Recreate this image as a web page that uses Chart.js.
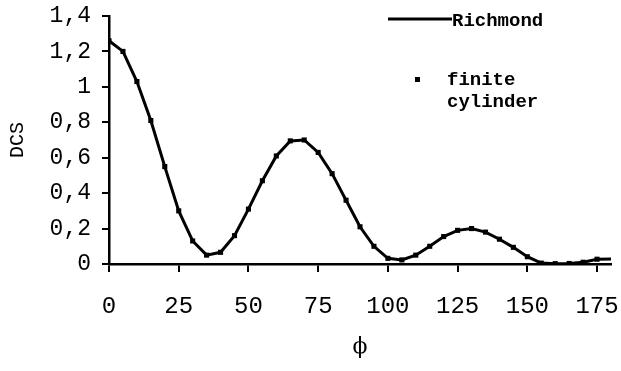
<!DOCTYPE html>
<html>
<head>
<meta charset="utf-8">
<script src="https://cdn.jsdelivr.net/npm/chart.js@4/dist/chart.umd.min.js"></script>
<style>
  html, body { margin: 0; padding: 0; background: #fff; }
  #wrap { width: 621px; height: 371px; }
</style>
</head>
<body>
<div id="wrap"><canvas id="myChart" width="621" height="371"></canvas></div>
<script>
// angles (deg) and DCS values
const angles = [0, 5, 10, 15, 20, 25, 30, 35, 40, 45, 50, 55, 60, 65, 70, 75, 80, 85, 90,
  95, 100, 105, 110, 115, 120, 125, 130, 135, 140, 145, 150, 155, 160, 165, 170, 175, 180];
const richmond = [1.26, 1.20, 1.03, 0.81, 0.55, 0.30, 0.13, 0.05, 0.066, 0.16, 0.31, 0.47, 0.61,
  0.695, 0.70, 0.63, 0.51, 0.36, 0.21, 0.10, 0.032, 0.023, 0.05, 0.10, 0.155, 0.19, 0.20,
  0.18, 0.14, 0.094, 0.041, 0.005, 0.002, 0.003, 0.01, 0.027, 0.028];
const cylinderAngles = [0, 5, 10, 15, 20, 25, 30, 35, 40, 45, 50, 55, 60, 65, 70, 75, 80, 85, 90,
  95, 100, 105, 110, 115, 120, 125, 130, 135, 140, 145, 150, 155, 160, 165, 170, 175];
const cylinder = [1.26, 1.20, 1.03, 0.81, 0.55, 0.30, 0.13, 0.05, 0.066, 0.16, 0.31, 0.47, 0.61,
  0.695, 0.70, 0.63, 0.51, 0.36, 0.21, 0.10, 0.032, 0.023, 0.05, 0.10, 0.155, 0.19, 0.20,
  0.18, 0.14, 0.094, 0.041, 0.005, 0.002, 0.003, 0.01, 0.027];
const xTicks = [0, 25, 50, 75, 100, 125, 150, 175];
const yTicks = ['0', '0,2', '0,4', '0,6', '0,8', '1', '1,2', '1,4'];

const mono = 'Liberation Mono';

// legend drawn by hand, the original has an odd layout
const legendPlugin = {
  id: 'handLegend',
  afterDraw(chart) {
    const ctx = chart.ctx;
    ctx.save();
    ctx.strokeStyle = '#000';
    ctx.lineWidth = 3;
    ctx.beginPath();
    ctx.moveTo(388, 19);
    ctx.lineTo(452, 19);
    ctx.stroke();
    ctx.fillStyle = '#000';
    ctx.font = 'bold 19px "' + mono + '"';
    ctx.textBaseline = 'middle';
    ctx.textAlign = 'left';
    ctx.fillText('Richmond', 452, 21);
    ctx.fillRect(415, 77, 5, 5);
    ctx.fillText('finite', 447, 80);
    ctx.fillText('cylinder', 447, 102);
    ctx.restore();
  }
};

const config = {
  type: 'scatter',
  data: {
    datasets: [{
      label: 'Richmond',
      data: angles.map((a, i) => ({ x: a, y: richmond[i] })),
      showLine: true,
      borderColor: '#000',
      borderWidth: 3,
      pointRadius: 0,
      tension: 0
    }, {
      label: 'finite cylinder',
      data: cylinderAngles.map((a, i) => ({ x: a, y: cylinder[i] })),
      showLine: false,
      pointStyle: 'rect',
      pointRadius: 3.6,
      backgroundColor: '#000',
      borderColor: '#000',
      borderWidth: 0
    }]
  },
  options: {
    responsive: false,
    animation: false,
    layout: { padding: { left: 0, right: 10, top: 16, bottom: 0 } },
    plugins: {
      legend: { display: false },
      tooltip: { enabled: false }
    },
    scales: {
      x: {
        type: 'linear',
        min: 0,
        max: 180,
        afterBuildTicks(scale) {
          scale.ticks = xTicks.map(v => ({ value: v }));
        },
        afterFit(scale) {
          scale.height = 107;
          scale.paddingLeft = 0;
          scale.paddingRight = 0;
        },
        border: { display: true, color: '#000', width: 2.5 },
        grid: { drawOnChartArea: false, drawTicks: true, tickLength: 8, color: '#000', lineWidth: 2 },
        ticks: {
          color: '#000',
          padding: 20,
          maxRotation: 0,
          font: { family: mono, size: 24 },
          callback: v => String(v)
        },
        title: {
          display: true,
          text: 'ϕ',
          color: '#000',
          font: { family: 'DejaVu Serif', size: 22 },
          padding: { top: 0, bottom: 11 }
        }
      },
      y: {
        min: 0,
        max: 1.4,
        afterBuildTicks(scale) {
          scale.ticks = yTicks.map((t, i) => ({ value: i * 0.2 }));
        },
        afterFit(scale) {
          scale.width = 109;
          scale.paddingTop = 0;
          scale.paddingBottom = 0;
        },
        border: { display: true, color: '#000', width: 2.5 },
        grid: { drawOnChartArea: false, drawTicks: true, tickLength: 7, color: '#000', lineWidth: 2 },
        ticks: {
          color: '#000',
          padding: 11,
          font: { family: mono, size: 23 },
          callback: (v, i) => yTicks[i]
        },
        title: {
          display: true,
          text: 'DCS',
          color: '#000',
          font: { family: mono, size: 20 },
          padding: { top: 6, bottom: 0 }
        }
      }
    }
  },
  plugins: [legendPlugin]
};

window.onload = function() {
  const ctx = document.getElementById('myChart').getContext('2d');
  new Chart(ctx, config);
};
</script>
</body>
</html>
